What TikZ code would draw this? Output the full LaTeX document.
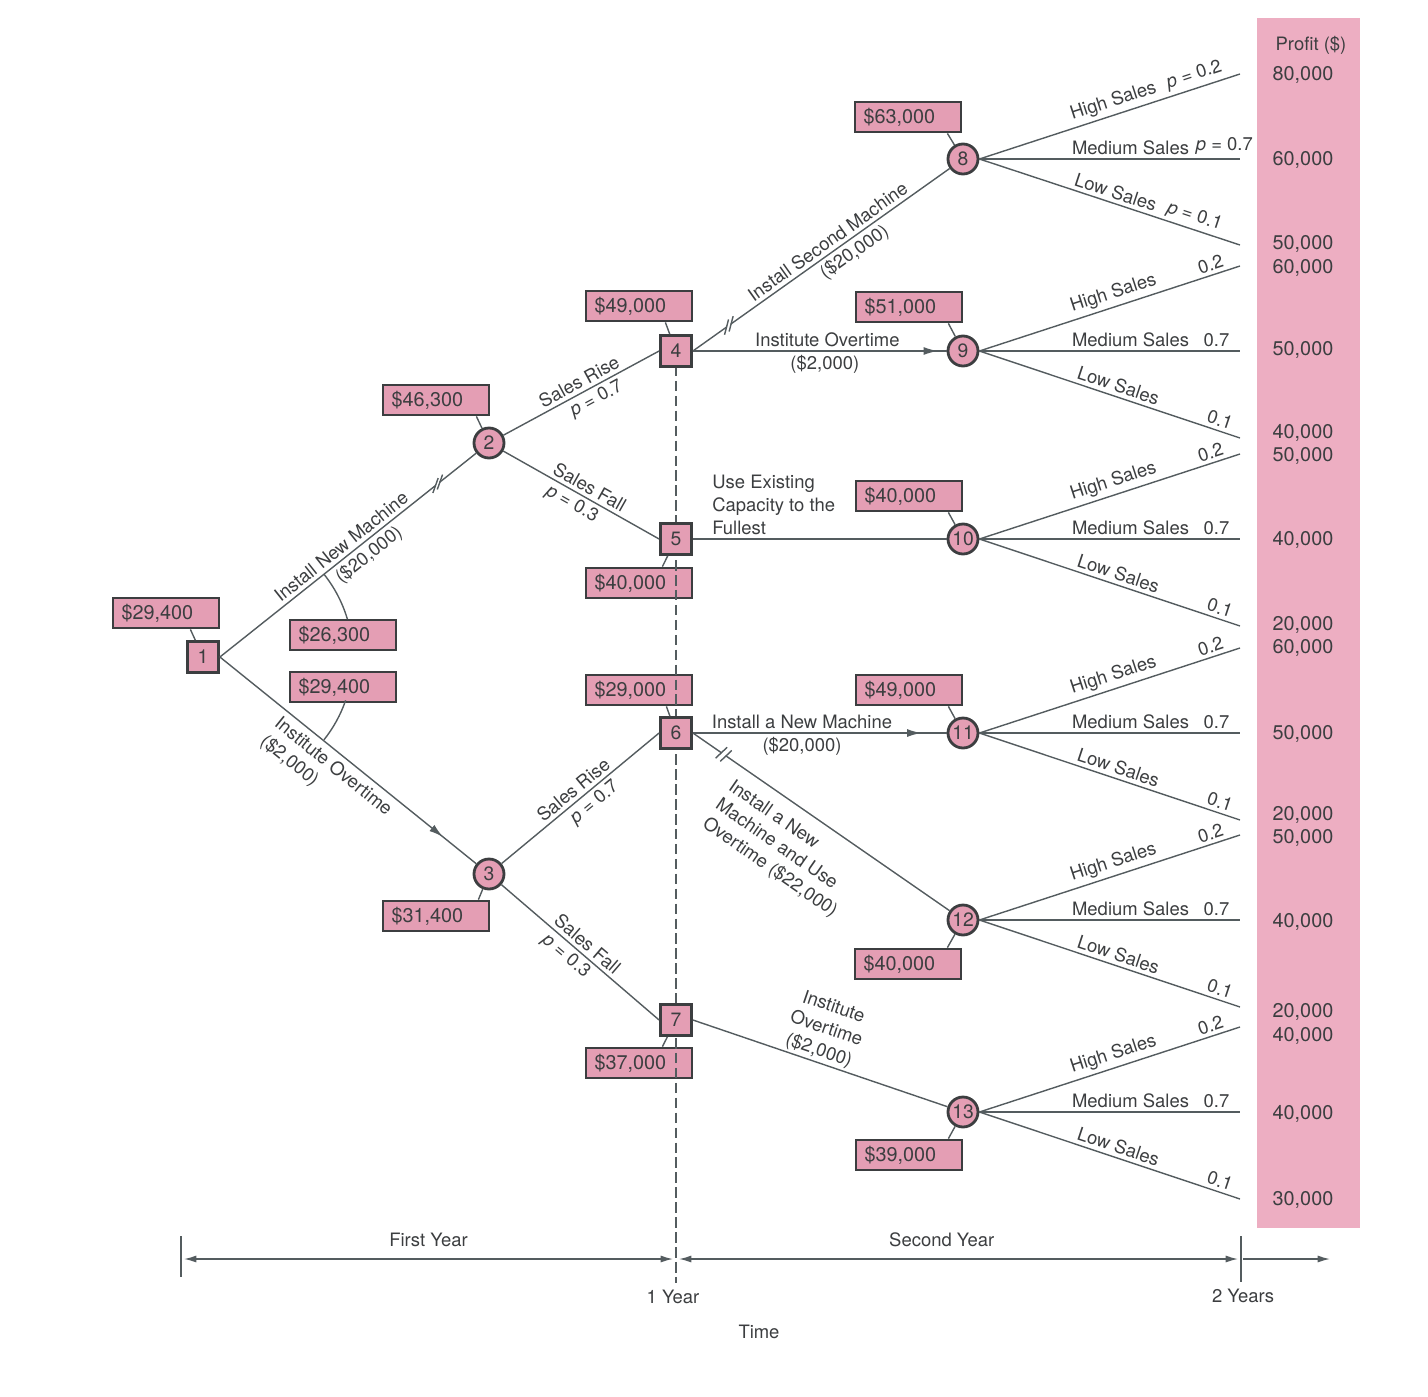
\documentclass[tikz,border=0pt]{standalone}
\usepackage{fontspec}
\setmainfont{TeX Gyre Heros}
\usetikzlibrary{calc,arrows.meta,decorations.markings}

\definecolor{boxpink}{RGB}{228,158,180}
\definecolor{colpink}{RGB}{237,174,194}
\definecolor{ink}{RGB}{60,62,64}
\definecolor{wire}{RGB}{84,92,95}

\tikzset{
  every node/.style={text=ink, font=\fontsize{10.5}{13}\selectfont},
  val/.style={draw=ink, fill=boxpink, line width=1.6pt, minimum height=0.6cm, text width=1.78cm, inner xsep=0.17cm, align=left, font=\fontsize{11.3}{13}\selectfont},
  dec/.style={draw=ink, fill=boxpink, line width=1.6pt, minimum size=0.62cm, inner sep=0pt, font=\fontsize{11}{13}\selectfont},
  chance/.style={circle, draw=ink, fill=boxpink, line width=1.6pt, minimum size=0.6cm, inner sep=0pt, font=\fontsize{11}{13}\selectfont},
  branch/.style={wire, line width=0.8pt},
  lab/.style={sloped, inner sep=2pt},
  cutmark/.style 2 args={postaction={decorate, decoration={markings, mark=at position #1 with {
    \draw[white, line width=2.4pt] (-1.4pt,0) -- (1.4pt,0);
    \draw[wire, line width=0.8pt, shift={(-1.6pt,0)}, rotate=#2] (-4.5pt,0) -- (4.5pt,0);
    \draw[wire, line width=0.8pt, shift={(1.6pt,0)}, rotate=#2] (-4.5pt,0) -- (4.5pt,0);}}}},
  midarrow/.style={postaction={decorate, decoration={markings, mark=at position #1 with {\arrow{Latex[length=8pt,width=4.5pt]}}}}},
  >={Latex[length=7pt,width=4pt]}
}

\begin{document}
\begin{tikzpicture}[x=0.02cm, y=-0.02cm]
\useasboundingbox (0,0) rectangle (1428,1397);

\fill[colpink] (1257,18) rectangle (1360,1228);
\node (ph) at (1311,45) {Profit (\$)};
\foreach \y/\t [count=\i] in {75/{80,000},160/{60,000},244/{50,000},268/{60,000},350/{50,000},433/{40,000},456/{50,000},540/{40,000},625/{20,000},648/{60,000},734/{50,000},815/{20,000},838/{50,000},922/{40,000},1012/{20,000},1036/{40,000},1114/{40,000},1200/{30,000}}
  \node[font=\fontsize{11.3}{13}\selectfont] (pf\i) at (1303,\y) {\t};

\node[val] (v1) at (166,613) {\$29,400};
\node[val] (v2) at (436,400) {\$46,300};
\node[val] (v3) at (436,916) {\$31,400};
\node[val] (v4) at (639,306) {\$49,000};
\node[val] (v5) at (639,583) {\$40,000};
\node[val] (v6) at (639,690) {\$29,000};
\node[val] (v7) at (639,1063) {\$37,000};
\node[val] (v8) at (908,117) {\$63,000};
\node[val] (v9) at (909,307) {\$51,000};
\node[val] (v10) at (909,496) {\$40,000};
\node[val] (v11) at (909,690) {\$49,000};
\node[val] (v12) at (908,964) {\$40,000};
\node[val] (v13) at (909,1155) {\$39,000};
\node[val] (va) at (343,635) {\$26,300};
\node[val] (vb) at (343,687) {\$29,400};

\coordinate (yr1top) at (676,351);
\coordinate (yr1bot) at (676,1283);
\draw[wire, line width=0.6pt, dash pattern=on 6pt off 2.5pt] (yr1top) -- (yr1bot);

\node[dec] (n1) at (203,657) {1};
\node[chance] (n2) at (489,443) {2};
\node[chance] (n3) at (489,874) {3};
\node[dec] (n4) at (676,351) {4};
\node[dec] (n5) at (676,539) {5};
\node[dec] (n6) at (676,733) {6};
\node[dec] (n7) at (676,1020) {7};
\node[chance] (n8) at (963,159) {8};
\node[chance] (n9) at (963,351) {9};
\node[chance] (n10) at (963,539) {10};
\node[chance] (n11) at (963,733) {11};
\node[chance] (n12) at (963,920) {12};
\node[chance] (n13) at (963,1112) {13};

\draw[branch] ([xshift=-0.6cm]v1.south east) -- (n1);
\draw[branch] ([xshift=-0.28cm]v2.south east) -- (n2);
\draw[branch] ([xshift=-0.24cm]v3.north east) -- (n3);
\draw[branch] ([xshift=-0.56cm]v4.south east) -- (n4);
\draw[branch] ([xshift=-0.62cm]v5.north east) -- (n5);
\draw[branch] ([xshift=-0.54cm]v6.south east) -- (n6);
\draw[branch] ([xshift=-0.62cm]v7.north east) -- (n7);
\foreach \k in {8,9,10,11}
  \draw[branch] ([xshift=-0.3cm]v\k.south east) -- (n\k);
\foreach \k in {12,13}
  \draw[branch] ([xshift=-0.3cm]v\k.north east) -- (n\k);

\draw[branch] (n1.east) ++(-38.6:133) arc[start angle=-38.6, end angle=-16.5, radius=133];
\draw[branch] (n1.east) ++(19:133) arc[start angle=19, end angle=38.5, radius=133];

\draw[branch, cutmark={0.85}{32}] (n1.east) -- (n2) node[lab, above, pos=0.5]{Install New Machine} node[lab, below, pos=0.55]{(\$20,000)};
\draw[branch, midarrow=0.87] (n1.east) -- (n3) node[lab, anchor=north west, pos=0.24, align=left, inner sep=3pt]{Institute Overtime\\(\$2,000)};

\draw[branch] (n2) -- (n4.west) node[lab, above, pos=0.52]{Sales Rise} node[lab, below, pos=0.56]{\textit{p} = 0.7};
\draw[branch] (n2) -- (n5.west) node[lab, above, pos=0.52]{Sales Fall} node[lab, below, pos=0.48]{\textit{p} = 0.3};
\draw[branch] (n3) -- (n6.west) node[lab, above, pos=0.5]{Sales Rise} node[lab, below, pos=0.54]{\textit{p} = 0.7};
\draw[branch] (n3) -- (n7.west) node[lab, above, pos=0.5]{Sales Fall} node[lab, below, pos=0.46]{\textit{p} = 0.3};

\draw[branch, cutmark={0.14}{40}] (n4.east) -- (n8) node[lab, above, pos=0.55]{Install Second Machine} node[lab, below, pos=0.6]{(\$20,000)};
\draw[branch, midarrow=0.965] (n4.east) -- (n9) node[lab, above, pos=0.53]{Institute Overtime} node[lab, below, pos=0.52]{(\$2,000)};
\draw[branch] (n5.east) -- (n10) node[anchor=south west, pos=0.06, align=left, inner sep=2pt]{Use Existing\\Capacity to the\\Fullest};
\draw[branch, midarrow=0.9] (n6.east) -- (n11) node[lab, above, pos=0.43]{Install a New Machine} node[lab, below, pos=0.43]{(\$20,000)};
\draw[branch, cutmark={0.12}{78}] (n6.east) -- (n12) node[lab, anchor=north west, pos=0.18, align=left, inner xsep=2pt, inner ysep=7pt]{Install a New\\Machine and Use\\Overtime (\$22,000)};
\draw[branch] (n7.east) -- (n13) node[lab, above, pos=0.48, align=center, inner sep=1pt]{Institute\\Overtime\\(\$2,000)};

\coordinate (hi8) at (1240,74);
\coordinate (md8) at (1240,159);
\coordinate (lo8) at (1240,245);
\draw[branch] (n8.east) -- (hi8) node[lab, above, pos=0.53]{High Sales} node[lab, above, pos=0.84]{\textit{p} = 0.2};
\draw[branch] (n8.east) -- (md8) node[lab, above, pos=0.58]{Medium Sales} node[lab, above, pos=0.94]{\textit{p} = 0.7};
\draw[branch] (n8.east) -- (lo8) node[lab, above, pos=0.51]{Low Sales} node[lab, above, pos=0.81]{\textit{p} = 0.1};
\foreach \k/\y in {9/351,10/539,11/733,12/920,13/1112}{
  \coordinate (hi\k) at (1240,\y-85);
  \coordinate (md\k) at (1240,\y);
  \coordinate (lo\k) at (1240,\y+87);
  \draw[branch] (n\k.east) -- (hi\k) node[lab, above, pos=0.53]{High Sales} node[lab, above, pos=0.9]{0.2};
  \draw[branch] (n\k.east) -- (md\k) node[lab, above, pos=0.58]{Medium Sales} node[lab, above, pos=0.91]{0.7};
  \draw[branch] (n\k.east) -- (lo\k) node[lab, above, pos=0.52]{Low Sales} node[lab, above, pos=0.91]{0.1};
}

\coordinate (t0) at (181,1259);
\coordinate (t1) at (676,1259);
\coordinate (t2) at (1241,1259);
\coordinate (t3) at (1330,1259);
\draw[branch] ($(t0)+(0,-23)$) -- ($(t0)+(0,18)$);
\draw[branch] ($(t2)+(0,-23)$) -- ($(t2)+(0,23)$);
\draw[branch, <->] ($(t0)+(3,0)$) -- ($(t1)+(-3,0)$) node[midway, above=3pt] (fy) {First Year};
\draw[branch, <->] ($(t1)+(3,0)$) -- ($(t2)+(-3,0)$) node[pos=0.47, above=3pt] (sy) {Second Year};
\draw[branch, ->] ($(t2)+(2,0)$) -- (t3);
\node (yr1) at (673,1297) {1 Year};
\node (yr2) at (1243,1296) {2 Years};
\node (time) at (759,1332) {Time};

\end{tikzpicture}
\end{document}
